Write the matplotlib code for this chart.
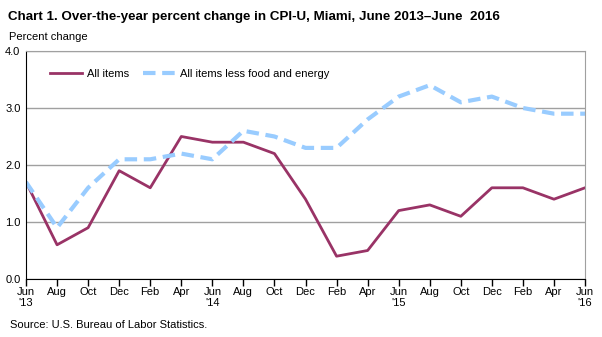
import matplotlib.pyplot as plt

plt.rcParams['font.family'] = ['Liberation Sans', 'DejaVu Sans']

months = ['Jun\n\'13', 'Aug', 'Oct', 'Dec', 'Feb', 'Apr',
          'Jun\n\'14', 'Aug', 'Oct', 'Dec', 'Feb', 'Apr',
          'Jun\n\'15', 'Aug', 'Oct', 'Dec', 'Feb', 'Apr',
          'Jun\n\'16']
all_items = [1.7, 0.6, 0.9, 1.9, 1.6, 2.5, 2.4, 2.4, 2.2, 1.4, 0.4, 0.5,
             1.2, 1.3, 1.1, 1.6, 1.6, 1.4, 1.6]
core = [1.7, 0.9, 1.6, 2.1, 2.1, 2.2, 2.1, 2.6, 2.5, 2.3, 2.3, 2.8,
        3.2, 3.4, 3.1, 3.2, 3.0, 2.9, 2.9]
yticks = [0.0, 1.0, 2.0, 3.0, 4.0]

fig = plt.figure(figsize=(6.02, 3.37), dpi=100)
ax = fig.add_axes([0.0432, 0.1721, 0.9286, 0.6766])

x = list(range(len(months)))
ax.plot(x, all_items, color='#993366', linewidth=2, label='All items')
ax.plot(x, core, color='#99CCFF', linewidth=3, dashes=(3, 1.6),
        label='All items less food and energy')

ax.set_xlim(0, len(months) - 1)
ax.set_ylim(0, 4)
ax.set_yticks(yticks)
ax.set_yticklabels(['%.1f' % v for v in yticks], fontsize=8)
ax.set_xticks(x)
ax.set_xticklabels(months, fontsize=8, linespacing=1.1)
ax.tick_params(axis='y', length=0, pad=4)
ax.tick_params(axis='x', direction='out', length=5, width=1, color='black', pad=1)
ax.grid(axis='y', color='#a0a0a0', linewidth=1)
ax.set_axisbelow(True)

for s in ['top', 'right']:
    ax.spines[s].set_color('#a0a0a0')
ax.spines['left'].set_color('black')
ax.spines['bottom'].set_color('black')

ax.legend(loc='upper left', bbox_to_anchor=(0.025, 0.965), ncol=2, frameon=False,
          fontsize=8, handlelength=2.9, columnspacing=1.2, handletextpad=0.45)

fig.text(0.013, 0.95, 'Chart 1. Over-the-year percent change in CPI-U, Miami, June 2013\u2013June  2016',
         fontsize=9.6, fontweight='bold', va='center')
fig.text(0.015, 0.89, 'Percent change', fontsize=8, va='center')
fig.text(0.017, 0.035, 'Source: U.S. Bureau of Labor Statistics.', fontsize=8, va='center')

fig.savefig('out.png', dpi=100)
